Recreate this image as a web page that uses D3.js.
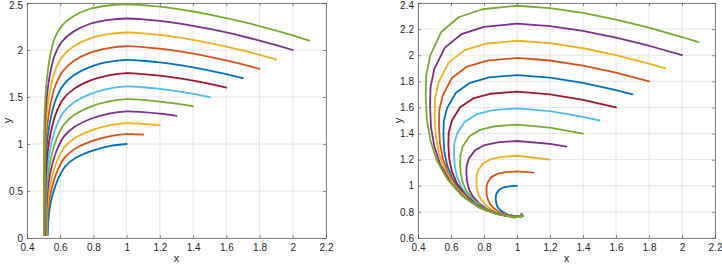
<!DOCTYPE html>
<html>
<head>
<meta charset="utf-8">
<script src="https://cdn.jsdelivr.net/npm/d3@7"></script>
<style>
body { margin: 0; background: #fff; }
svg { display: block; }
text { font-family: "Liberation Sans", Arial, sans-serif; fill: #262626; }
</style>
</head>
<body>
<div id="fig"></div>
<script>
// default colour order, one per curve (repeats after seven)
const lineColors = ["#0072BD", "#D95319", "#EDB120", "#7E2F8E", "#77AC30", "#4DBEEE",
                    "#A2142F", "#0072BD", "#D95319", "#EDB120", "#7E2F8E", "#77AC30"];

const xTickValues = [0.4, 0.6, 0.8, 1, 1.2, 1.4, 1.6, 1.8, 2, 2.2];
const xTickLabels = ["0.4", "0.6", "0.8", "1", "1.2", "1.4", "1.6", "1.8", "2", "2.2"];
const leftYTicks = [0, 0.5, 1, 1.5, 2, 2.5];
const leftYLabels = ["0", "0.5", "1", "1.5", "2", "2.5"];
const rightYTicks = [0.6, 0.8, 1, 1.2, 1.4, 1.6, 1.8, 2, 2.2, 2.4];
const rightYLabels = ["0.6", "0.8", "1", "1.2", "1.4", "1.6", "1.8", "2", "2.2", "2.4"];

// left panel, one [x, y] list per start value 1.0 ... 2.1
const leftCurves = [
  [[0.525,0.03],[0.5298,0.2],[0.5393,0.345],[0.5583,0.488],[0.5868,0.627],[0.6295,0.76],[0.6913,0.85],[0.7863,0.925],[0.8955,0.978],[1.0,1.0]],
  [[0.521,0.03],[0.5258,0.256],[0.5354,0.413],[0.5545,0.5675],[0.5833,0.7157],[0.6264,0.8548],[0.6887,0.9491],[0.7845,1.0277],[0.8946,1.0823],[1.0,1.105],[1.05,1.1034],[1.1,1.1]],
  [[0.518,0.03],[0.5228,0.3221],[0.5325,0.4916],[0.5517,0.659],[0.5807,0.8169],[0.624,0.9621],[0.6867,1.0605],[0.7831,1.1426],[0.894,1.1989],[1.0,1.222],[1.1,1.2148],[1.2,1.2]],
  [[0.515,0.03],[0.5199,0.3979],[0.5296,0.5804],[0.549,0.7609],[0.5781,0.9284],[0.6217,1.0788],[0.6848,1.1809],[0.7818,1.2662],[0.8933,1.3236],[1.0,1.347],[1.1,1.3389],[1.2,1.3224],[1.3,1.3]],
  [[0.513,0.03],[0.5179,0.4834],[0.5276,0.6787],[0.5471,0.8722],[0.5763,1.0485],[0.6201,1.203],[0.6835,1.308],[0.7809,1.3958],[0.8929,1.4537],[1.0,1.477],[1.1,1.4686],[1.2,1.4516],[1.3,1.4284],[1.4,1.4]],
  [[0.511,0.03],[0.5159,0.5789],[0.5257,0.787],[0.5452,0.9933],[0.5746,1.1777],[0.6186,1.3351],[0.6822,1.4419],[0.78,1.5314],[0.8924,1.589],[1.0,1.612],[1.1,1.6035],[1.2,1.5862],[1.3,1.5625],[1.4,1.5336],[1.5,1.5]],
  [[0.509,0.03],[0.5139,0.6853],[0.5237,0.906],[0.5434,1.1251],[0.5728,1.3172],[0.617,1.4757],[0.6809,1.5838],[0.779,1.6741],[0.892,1.7307],[1.0,1.753],[1.1,1.7443],[1.2,1.7266],[1.3,1.7025],[1.4,1.673],[1.5,1.6387],[1.6,1.6]],
  [[0.507,0.03],[0.5119,0.8006],[0.5218,1.0332],[0.5415,1.2642],[0.5711,1.4624],[0.6155,1.6203],[0.6796,1.7281],[0.7782,1.8182],[0.8915,1.8728],[1.0,1.894],[1.1,1.8854],[1.2,1.8678],[1.3,1.844],[1.4,1.8148],[1.5,1.7808],[1.6,1.7424],[1.7,1.7]],
  [[0.506,0.03],[0.5109,0.9274],[0.5208,1.1712],[0.5406,1.4139],[0.5702,1.6173],[0.6147,1.773],[0.6789,1.8795],[0.7777,1.9686],[0.8913,2.0204],[1.0,2.04],[1.1,2.0314],[1.2,2.0139],[1.3,1.99],[1.4,1.9608],[1.5,1.9269],[1.6,1.8885],[1.7,1.8462],[1.8,1.8]],
  [[0.504,0.03],[0.509,1.0633],[0.5189,1.3175],[0.5387,1.5711],[0.5685,1.7785],[0.6131,1.9296],[0.6776,2.0334],[0.7768,2.1204],[0.8909,2.1683],[1.0,2.186],[1.1,2.1775],[1.2,2.1602],[1.3,2.1367],[1.4,2.1079],[1.5,2.0743],[1.6,2.0365],[1.7,1.9947],[1.8,1.9491],[1.9,1.9]],
  [[0.503,0.03],[0.508,1.21],[0.5179,1.4743],[0.5378,1.7382],[0.5676,1.9481],[0.6123,2.0931],[0.677,2.1928],[0.7764,2.2766],[0.8907,2.3198],[1.0,2.335],[1.1,2.3266],[1.2,2.3095],[1.3,2.2862],[1.4,2.2577],[1.5,2.2245],[1.6,2.1871],[1.7,2.1457],[1.8,2.1006],[1.9,2.052],[2.0,2.0]],
  [[0.502,0.03],[0.507,1.3673],[0.517,1.6408],[0.5369,1.9142],[0.5667,2.1255],[0.6116,2.2623],[0.6763,2.3567],[0.7759,2.4363],[0.8904,2.4736],[1.0,2.486],[1.1,2.4777],[1.2,2.4608],[1.3,2.4377],[1.4,2.4095],[1.5,2.3767],[1.6,2.3396],[1.7,2.2987],[1.8,2.2541],[1.9,2.206],[2.0,2.1546],[2.1,2.1]]
];

// right panel, same start points, spiralling in towards (1, 0.77)
const rightCurves = [
  [[1.0,1.0],[0.951,0.996],[0.917,0.987],[0.893,0.971],[0.877,0.946],[0.872,0.924],[0.871,0.901],[0.873,0.876],[0.877,0.853],[0.886,0.831],[0.902,0.81],[0.923,0.792],[0.946,0.779],[0.972,0.772],[0.996,0.768],[1.035,0.768],[1.028,0.782]],
  [[1.1,1.1],[1.0,1.11],[0.93,1.104],[0.882,1.091],[0.846,1.068],[0.824,1.03],[0.816,0.998],[0.815,0.964],[0.817,0.926],[0.824,0.892],[0.837,0.86],[0.859,0.829],[0.889,0.802],[0.922,0.784],[0.959,0.773],[0.994,0.767],[1.035,0.768],[1.028,0.782]],
  [[1.2,1.2],[1.0,1.23],[0.907,1.222],[0.843,1.205],[0.796,1.173],[0.766,1.122],[0.755,1.078],[0.754,1.032],[0.757,0.982],[0.766,0.936],[0.784,0.892],[0.813,0.849],[0.852,0.813],[0.897,0.788],[0.946,0.774],[0.993,0.766],[1.035,0.768],[1.028,0.782]],
  [[1.3,1.3],[1.2,1.3205],[1.0,1.343],[0.883,1.333],[0.804,1.312],[0.745,1.271],[0.708,1.208],[0.695,1.154],[0.693,1.097],[0.697,1.034],[0.708,0.976],[0.73,0.922],[0.767,0.869],[0.816,0.824],[0.871,0.793],[0.932,0.775],[0.991,0.765],[1.035,0.768],[1.028,0.782]],
  [[1.4,1.4],[1.2,1.4456],[1.0,1.468],[0.869,1.456],[0.779,1.43],[0.714,1.381],[0.672,1.304],[0.657,1.238],[0.655,1.168],[0.659,1.091],[0.672,1.021],[0.696,0.955],[0.738,0.89],[0.793,0.836],[0.855,0.798],[0.924,0.776],[0.99,0.764],[1.035,0.768],[1.028,0.782]],
  [[1.5,1.5],[1.4,1.5279],[1.2,1.5715],[1.0,1.593],[0.855,1.579],[0.756,1.548],[0.683,1.49],[0.637,1.4],[0.62,1.321],[0.618,1.239],[0.623,1.149],[0.637,1.066],[0.664,0.988],[0.71,0.912],[0.771,0.847],[0.84,0.803],[0.916,0.777],[0.989,0.763],[1.035,0.768],[1.028,0.782]],
  [[1.6,1.6],[1.4,1.6578],[1.2,1.7001],[1.0,1.721],[0.842,1.705],[0.734,1.669],[0.655,1.602],[0.605,1.498],[0.586,1.407],[0.584,1.312],[0.589,1.208],[0.605,1.112],[0.634,1.022],[0.684,0.934],[0.75,0.859],[0.825,0.808],[0.908,0.778],[0.988,0.762],[1.035,0.768],[1.028,0.782]],
  [[1.7,1.7],[1.6,1.7324],[1.4,1.7875],[1.2,1.828],[1.0,1.848],[0.831,1.83],[0.715,1.789],[0.63,1.713],[0.576,1.595],[0.556,1.492],[0.554,1.385],[0.559,1.266],[0.576,1.158],[0.608,1.056],[0.661,0.955],[0.732,0.871],[0.813,0.813],[0.902,0.779],[0.987,0.761],[1.035,0.768],[1.028,0.782]],
  [[1.8,1.8],[1.6,1.866],[1.4,1.92],[1.2,1.9595],[1.0,1.979],[0.82,1.958],[0.697,1.913],[0.607,1.828],[0.551,1.695],[0.529,1.58],[0.527,1.459],[0.533,1.326],[0.551,1.205],[0.584,1.09],[0.641,0.978],[0.716,0.884],[0.801,0.818],[0.896,0.78],[0.986,0.76],[1.035,0.768],[1.028,0.782]],
  [[1.9,1.9],[1.8,1.9362],[1.6,2.0007],[1.4,2.0534],[1.2,2.092],[1.0,2.111],[0.81,2.088],[0.681,2.037],[0.586,1.943],[0.526,1.796],[0.503,1.669],[0.501,1.534],[0.507,1.387],[0.526,1.253],[0.561,1.125],[0.621,1.001],[0.701,0.896],[0.79,0.824],[0.89,0.781],[0.985,0.759],[1.035,0.768],[1.028,0.782]],
  [[2.0,2.0],[1.8,2.0726],[1.6,2.1351],[1.4,2.1861],[1.2,2.2236],[1.0,2.242],[0.8,2.217],[0.663,2.161],[0.563,2.058],[0.499,1.896],[0.476,1.756],[0.473,1.609],[0.479,1.447],[0.499,1.3],[0.536,1.16],[0.599,1.023],[0.684,0.908],[0.779,0.829],[0.884,0.782],[0.984,0.758],[1.035,0.768],[1.028,0.782]],
  [[2.1,2.1],[2.0,2.1395],[1.8,2.2114],[1.6,2.2732],[1.4,2.3237],[1.2,2.3608],[1.0,2.379],[0.79,2.352],[0.646,2.291],[0.541,2.178],[0.475,2.001],[0.45,1.848],[0.447,1.687],[0.454,1.51],[0.475,1.349],[0.513,1.196],[0.58,1.047],[0.668,0.921],[0.768,0.834],[0.878,0.783],[0.983,0.757],[1.035,0.768],[1.028,0.782]]
];

const svg = d3.select("#fig").append("svg")
    .attr("width", 722)
    .attr("height", 264);

function drawPanel(box, yDomain, yTicks, yLabels, curves, smooth) {
    let x = d3.scaleLinear().domain([0.4, 2.2]).range([box.left, box.right]);
    let y = d3.scaleLinear().domain(yDomain).range([box.bottom, box.top]);
    let g = svg.append("g");

    // grid
    g.selectAll("line.gx")
        .data(xTickValues)
        .join("line")
            .attr("x1", d => x(d)).attr("x2", d => x(d))
            .attr("y1", box.top).attr("y2", box.bottom)
            .attr("stroke", "#dfdfdf").attr("stroke-width", 0.8);
    g.selectAll("line.gy")
        .data(yTicks)
        .join("line")
            .attr("x1", box.left).attr("x2", box.right)
            .attr("y1", d => y(d)).attr("y2", d => y(d))
            .attr("stroke", "#dfdfdf").attr("stroke-width", 0.8);

    // axes with inward ticks on all four sides
    let fmtX = d => xTickLabels[xTickValues.indexOf(d)];
    let fmtY = d => yLabels[yTicks.indexOf(d)];
    let axes = [
        [d3.axisBottom(x).tickValues(xTickValues).tickFormat(fmtX).tickPadding(6), "translate(0," + box.bottom + ")"],
        [d3.axisTop(x).tickValues(xTickValues).tickFormat(""), "translate(0," + box.top + ")"],
        [d3.axisLeft(y).tickValues(yTicks).tickFormat(fmtY).tickPadding(4), "translate(" + box.left + ",0)"],
        [d3.axisRight(y).tickValues(yTicks).tickFormat(""), "translate(" + box.right + ",0)"]
    ];
    axes.forEach(([ax, tr]) => {
        let a = g.append("g")
            .attr("transform", tr)
            .call(ax.tickSizeInner(-3).tickSizeOuter(0));
        a.select(".domain").attr("stroke", "#555").attr("stroke-width", 0.7);
        a.selectAll(".tick line").attr("stroke", "#444").attr("stroke-width", 0.6);
        a.selectAll(".tick text")
            .style("font-family", "'Liberation Sans', Arial, sans-serif")
            .style("font-size", "10px")
            .attr("fill", "#262626");
    });
    // keep the topmost y label inside the window
    g.selectAll(".tick text")
        .filter(d => d === yTicks[yTicks.length - 1])
        .attr("dy", "0.5em");

    // axis titles
    g.append("text")
        .attr("x", (box.left + box.right) / 2)
        .attr("y", 261.5)
        .attr("text-anchor", "middle")
        .style("font-size", "11px")
        .text("x");
    g.append("text")
        .attr("transform", "translate(" + (box.left - 16) + "," + ((box.top + box.bottom) / 2) + ")rotate(-90)")
        .attr("text-anchor", "middle")
        .style("font-size", "11px")
        .text("y");

    let line = d3.line()
        .x(d => x(d[0]))
        .y(d => y(d[1]))
        .curve(smooth ? d3.curveCatmullRom.alpha(0.5) : d3.curveLinear);

    g.selectAll("path.curve")
        .data(curves)
        .join("path")
            .attr("class", "curve")
            .attr("d", line)
            .attr("fill", "none")
            .attr("stroke", (d, i) => lineColors[i])
            .attr("stroke-width", 1.8)
            .attr("stroke-linejoin", "round")
            .attr("stroke-linecap", "round");
}

drawPanel({left: 27, right: 326, top: 3, bottom: 238}, [0, 2.5], leftYTicks, leftYLabels, leftCurves, true);
drawPanel({left: 418, right: 715, top: 3, bottom: 238}, [0.6, 2.4], rightYTicks, rightYLabels, rightCurves, false);
</script>
</body>
</html>
